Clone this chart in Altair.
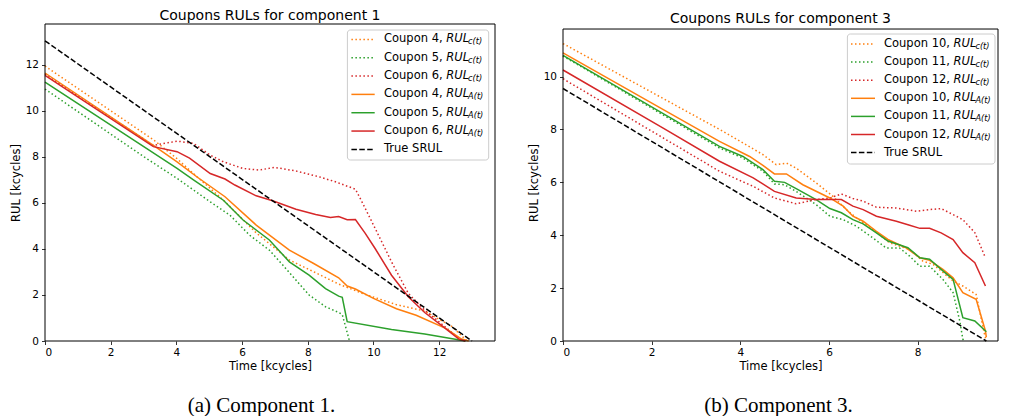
import altair as alt
import pandas as pd

FONT = "DejaVu Sans"
ORANGE, GREEN, RED = "#ff7f0e", "#2ca02c", "#d62728"

# ---------------- Component 1 (left panel) ----------------
c1_true_t = [0.0, 13.0]
c1_true_r = [13.05, 0.0]

c4_c_t = [0, 3.3, 4.0, 4.5, 5.45, 6.43, 7.44, 8.18, 8.93, 9.7, 10.7, 11.56, 12.4, 12.85]
c4_c_r = [11.95, 8.75, 7.95, 7.3, 6.1, 4.7, 3.52, 3.01, 2.48, 2.05, 1.58, 1.3, 0.62, 0.0]
c5_c_t = [0, 3.02, 4.02, 5.03, 5.63, 6.23, 6.83, 7.24, 8.04, 8.54, 8.94, 9.05, 9.27]
c5_c_r = [10.95, 8.0, 7.07, 6.05, 5.47, 4.6, 3.95, 3.3, 2.0, 1.49, 1.24, 1.15, 0.0]
c6_c_t = [0, 3.3, 4.02, 4.52, 5.03, 5.43, 6.03, 6.53, 6.98, 7.64, 8.34, 8.84, 9.45, 9.65, 10.05, 10.55, 11.06, 11.56, 12.06, 12.6, 12.8]
c6_c_r = [11.6, 8.5, 8.69, 8.59, 8.08, 7.79, 7.5, 7.43, 7.55, 7.39, 7.14, 6.92, 6.6, 6.05, 4.9, 3.44, 2.07, 1.34, 0.76, 0.11, 0.0]

c4_a_t = [0, 3.3, 4.02, 4.62, 5.48, 6.43, 7.44, 8.18, 8.94, 9.2, 9.45, 10.0, 10.7, 11.3, 12.2, 12.66, 12.9]
c4_a_r = [11.65, 8.5, 7.79, 7.14, 6.27, 5.04, 3.95, 3.37, 2.75, 2.39, 2.26, 1.85, 1.4, 1.12, 0.55, 0.1, 0.0]
c5_a_t = [0, 4.02, 4.52, 5.43, 6.03, 6.83, 7.44, 8.04, 8.54, 8.94, 9.05, 9.2, 10.55, 11.56, 12.8]
c5_a_r = [11.25, 7.5, 7.0, 6.12, 5.26, 4.39, 3.44, 2.86, 2.28, 1.95, 1.9, 0.84, 0.5, 0.3, 0.0]
c6_a_t = [0, 3.3, 4.02, 4.4, 5.03, 5.48, 5.78, 6.43, 6.93, 7.64, 8.24, 8.69, 8.94, 9.2, 9.45, 9.75, 10.05, 10.55, 11.06, 11.56, 12.06, 12.6, 12.8]
c6_a_r = [11.55, 8.45, 8.23, 7.95, 7.28, 7.04, 6.78, 6.31, 6.1, 5.73, 5.5, 5.37, 5.41, 5.27, 5.28, 4.68, 4.02, 2.86, 1.92, 1.24, 0.69, 0.08, 0.0]

# ---------------- Component 3 (right panel) ----------------
c3_true_t = [0.0, 9.55]
c3_true_r = [9.55, 0.0]

c10_c_t = [0, 3.61, 4.51, 4.81, 5.04, 5.26, 5.71, 6.09, 6.39, 6.62, 6.99, 7.37, 7.82, 8.12, 8.35, 8.8, 9.02, 9.32, 9.51, 9.55]
c10_c_r = [11.25, 7.93, 7.05, 6.67, 6.73, 6.54, 5.98, 5.47, 4.97, 4.66, 4.22, 3.71, 3.46, 3.02, 2.9, 2.27, 2.08, 1.76, 0.25, 0.0]
c11_c_t = [0, 3.53, 4.06, 4.51, 4.77, 5.0, 5.26, 5.71, 6.02, 6.32, 6.62, 6.99, 7.29, 7.59, 7.82, 8.05, 8.27, 8.57, 8.8, 8.95, 9.02, 9.05]
c11_c_r = [10.78, 7.3, 6.92, 6.42, 5.94, 5.91, 5.66, 5.16, 4.72, 4.59, 4.34, 3.9, 3.52, 3.52, 3.21, 2.83, 2.83, 2.33, 1.83, 0.76, 0.07, 0.0]
c12_c_t = [0, 2.26, 3.53, 4.29, 4.77, 5.26, 5.71, 6.02, 6.28, 6.54, 6.77, 7.07, 7.52, 7.97, 8.27, 8.53, 8.8, 9.02, 9.29, 9.53]
c12_c_r = [9.92, 7.68, 6.42, 5.85, 5.41, 5.19, 5.35, 5.41, 5.56, 5.39, 5.29, 5.06, 5.03, 4.91, 4.97, 5.01, 4.78, 4.59, 4.1, 3.15]

c10_a_t = [0, 3.53, 4.21, 4.51, 4.77, 5.04, 5.41, 6.02, 6.32, 6.54, 6.77, 7.07, 7.33, 7.74, 8.05, 8.27, 8.57, 8.8, 9.02, 9.32, 9.53, 9.55]
c10_a_r = [10.9, 7.55, 6.98, 6.64, 6.32, 6.32, 5.91, 5.41, 5.1, 4.72, 4.53, 4.15, 3.84, 3.52, 3.15, 3.05, 2.71, 2.39, 1.83, 1.58, 0.38, 0.15]
c11_a_t = [0, 3.53, 4.06, 4.51, 4.77, 5.0, 5.26, 5.71, 6.02, 6.28, 6.54, 6.77, 7.07, 7.33, 7.78, 8.05, 8.27, 8.57, 8.8, 9.02, 9.29, 9.55]
c11_a_r = [10.8, 7.36, 6.98, 6.48, 6.04, 6.0, 5.76, 5.35, 5.01, 4.85, 4.59, 4.43, 4.09, 3.78, 3.53, 3.15, 3.09, 2.65, 2.33, 0.88, 0.76, 0.35]
c12_a_t = [0, 2.26, 3.53, 4.29, 4.77, 5.26, 5.71, 6.28, 6.54, 6.77, 7.07, 7.52, 7.82, 8.05, 8.27, 8.53, 8.8, 9.02, 9.29, 9.53]
c12_a_r = [10.25, 8.05, 6.8, 6.17, 5.66, 5.41, 5.35, 5.35, 5.1, 4.97, 4.72, 4.53, 4.38, 4.26, 4.26, 4.09, 3.84, 3.34, 2.96, 2.08]

DOT = [1.5, 2.5]
DASH = [5.5, 2.4]

# DejaVu Sans advance widths (em) for legend text layout
WID = {"C": 0.698, "o": 0.612, "u": 0.634, "p": 0.635, "n": 0.634, " ": 0.318,
       ",": 0.318, "R": 0.695, "U": 0.732, "L": 0.557}
for d in "0123456789":
    WID[d] = 0.636


def tw(s, size):
    return sum(WID.get(c, 0.6) for c in s) * size


ONE = pd.DataFrame({"k": [0]})


def line(ts, rs, color, dash, xs, ys, xaxis, yaxis):
    df = pd.DataFrame({"t": ts, "r": rs})
    kw = dict(color=color, strokeWidth=1.5)
    if dash:
        kw["strokeDash"] = dash
    return alt.Chart(df).mark_line(**kw).encode(
        x=alt.X("t:Q", scale=xs, axis=xaxis),
        y=alt.Y("r:Q", scale=ys, axis=yaxis),
    )


def legend(coupons, box, lx, tx, y0, dy):
    fs = 11.5
    layers = [alt.Chart(ONE).mark_rect(fill="white", fillOpacity=0.8, stroke="#cccccc",
                                       strokeWidth=1, cornerRadius=3).encode(
        x=alt.value(box[0]), x2=alt.value(box[1]), y=alt.value(box[2]), y2=alt.value(box[3]))]
    entries = [(c, "c(t)", col, DOT) for c, col in coupons] + \
              [(c, "A(t)", col, None) for c, col in coupons] + [(None, None, "black", DASH)]
    for i, (c, sub, col, dash) in enumerate(entries):
        yy = y0 + i * dy
        kw = dict(color=col, strokeWidth=1.5)
        if dash:
            kw["strokeDash"] = dash
        layers.append(alt.Chart(ONE).mark_rule(**kw).encode(
            x=alt.value(lx[0]), x2=alt.value(lx[1]), y=alt.value(yy)))
        if c is None:
            layers.append(alt.Chart(ONE).mark_text(text="True SRUL", align="left", baseline="middle",
                                                   font=FONT, fontSize=fs, color="black").encode(
                x=alt.value(tx), y=alt.value(yy)))
            continue
        pre = f"Coupon {c}, "
        layers.append(alt.Chart(ONE).mark_text(text=pre, align="left", baseline="middle",
                                               font=FONT, fontSize=fs, color="black").encode(
            x=alt.value(tx), y=alt.value(yy)))
        x2 = tx + tw(pre, fs)
        layers.append(alt.Chart(ONE).mark_text(text="RUL", align="left", baseline="middle",
                                               font=FONT, fontSize=fs, fontStyle="italic",
                                               color="black").encode(
            x=alt.value(x2), y=alt.value(yy)))
        x3 = x2 + tw("RUL", fs) - 1
        layers.append(alt.Chart(ONE).mark_text(text=sub, align="left", baseline="middle",
                                               font=FONT, fontSize=8.2, fontStyle="italic",
                                               color="black").encode(
            x=alt.value(x3), y=alt.value(yy + 3)))
    return layers


def panel(series, true_t, true_r, coupons, xdom, xticks, ylim, ydom, yticks, W, H,
          title, title_off, caption, cap_x, cap_y, box, lx, tx, y0, dy):
    xs = alt.Scale(domain=xdom, nice=False, zero=False)
    ys = alt.Scale(domain=ydom, nice=False, zero=False)
    xaxis = alt.Axis(title="Time [kcycles]", values=xticks, titlePadding=2)
    yaxis = alt.Axis(title="RUL [kcycles]", values=yticks, titlePadding=4)
    layers = []
    for ts, rs, col, dash in series:
        layers.append(line(ts, rs, col, dash, xs, ys, xaxis, yaxis))
    layers.append(line(true_t, true_r, "black", DASH, xs, ys, xaxis, yaxis))
    layers += legend(coupons, box, lx, tx, y0, dy)
    # axes frame (matplotlib spines) at the axis limits
    layers.append(alt.Chart(ONE).mark_rect(fillOpacity=0, stroke="black", strokeWidth=1).encode(
        x=alt.value(0), x2=alt.value(W), y=alt.datum(ylim), y2=alt.datum(0.0)))
    layers.append(alt.Chart(ONE).mark_text(text=caption, align="center", baseline="alphabetic",
                                           font="Liberation Serif", fontSize=21,
                                           color="black").encode(
        x=alt.value(cap_x), y=alt.value(cap_y)))
    return alt.layer(*layers).properties(
        width=W, height=H,
        title=alt.Title(title, font=FONT, fontSize=14, fontWeight="normal", color="black",
                        anchor="middle", frame="group", offset=title_off),
    )


left = panel(
    [(c4_c_t, c4_c_r, ORANGE, DOT), (c5_c_t, c5_c_r, GREEN, DOT), (c6_c_t, c6_c_r, RED, DOT),
     (c4_a_t, c4_a_r, ORANGE, None), (c5_a_t, c5_a_r, GREEN, None), (c6_a_t, c6_a_r, RED, None)],
    c1_true_t, c1_true_r, [(4, ORANGE), (5, GREEN), (6, RED)],
    [0, 13.70], [0, 2, 4, 6, 8, 10, 12], 13.78, [0, 13.78], [0, 2, 4, 6, 8, 10, 12],
    450, 317, "Coupons RULs for component 1", 1, "(a) Component 1.", 216.5, 387.5,
    (302.4, 443.7, 6, 136), (306.4, 329.7), 339, 15.4, 18.33,
)

# right panel: same px/unit as the reference (44.33 px per kcycle) but cut at the page edge
right = panel(
    [(c10_c_t, c10_c_r, ORANGE, DOT), (c11_c_t, c11_c_r, GREEN, DOT), (c12_c_t, c12_c_r, RED, DOT),
     (c10_a_t, c10_a_r, ORANGE, None), (c11_a_t, c11_a_r, GREEN, None), (c12_a_t, c12_a_r, RED, None)],
    c3_true_t, c3_true_r, [(10, ORANGE), (11, GREEN), (12, RED)],
    [0, 9.813], [0, 2, 4, 6, 8], 11.8, [0, 11.99], [0, 2, 4, 6, 8, 10],
    435, 317, "Coupons RULs for component 3", -2.4, "(b) Component 3.", 215.5, 387.5,
    (284.4, 432, 10, 140), (288, 312), 321, 20, 18.1,
)

chart = alt.hconcat(left, right, spacing=32).properties(
    padding={"left": 2, "top": 0, "right": 0, "bottom": 0}
).configure_axis(
    labelFont=FONT, titleFont=FONT, labelFontSize=10.5, titleFontSize=11.5,
    titleFontWeight="normal", labelColor="black", titleColor="black",
    tickColor="black", tickSize=3.5, tickWidth=0.8, grid=False, domain=False, labelPadding=3,
).configure_view(stroke=None)

chart.save("out.html", embed_options={"renderer": "svg", "actions": False})
